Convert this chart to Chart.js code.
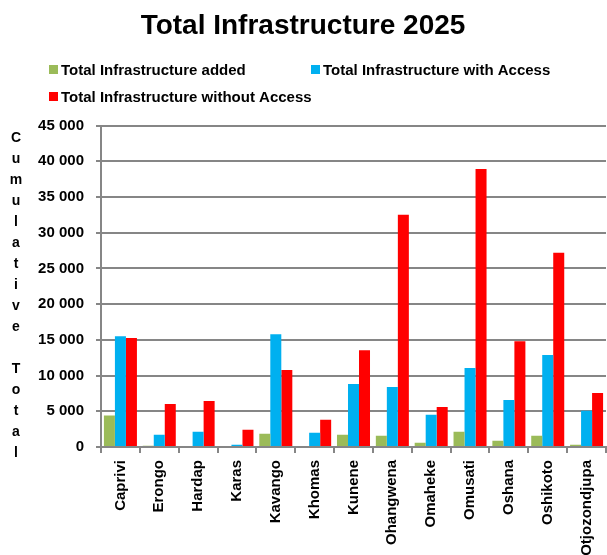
<!DOCTYPE html>
<html>
<head>
<meta charset="utf-8">
<title>Total Infrastructure 2025</title>
<script src="https://cdn.jsdelivr.net/npm/chart.js@4"></script>
<style>
  html, body { margin:0; padding:0; background:#fff; }
  #box { width:607px; height:555px; position:relative; }
</style>
</head>
<body>
<div id="box"><canvas id="chart"></canvas></div>
<script>
// -- dati --
const regions = ["Caprivi","Erongo","Hardap","Karas","Kavango","Khomas","Kunene","Ohangwena","Omaheke","Omusati","Oshana","Oshikoto","Otjozondjupa"];
const infraAdded = [4400, 180, 0, 0, 1850, 0, 1710, 1570, 600, 2130, 880, 1570, 320];
const infraWithAccess = [15500, 1710, 2130, 320, 15800, 1990, 8820, 8400, 4500, 11050, 6590, 12870, 5060];
const infraWithoutAccess = [15250, 6030, 6450, 2410, 10770, 3800, 13560, 32520, 5610, 38910, 14810, 27210, 7570];
const seriesNames = ["Total Infrastructure added","Total Infrastructure with Access","Total Infrastructure without Access"];
const yTitle = "Cumulative Total";
const yMax = 45000, yStep = 5000;

const FONT = "'Liberation Sans', Arial, sans-serif";
const GRID = "#868686";
const colors = ["#9BBB59","#00B0F0","#FF0000"];

// -- legenda e titolo asse disegnati a mano (layout a due righe come l'originale) --
const customText = {
  id: "customText",
  afterDraw(chart) {
    const ctx = chart.ctx;
    ctx.save();
    ctx.font = "bold 15px " + FONT;
    ctx.fillStyle = "#000";
    ctx.textBaseline = "middle";
    ctx.textAlign = "left";
    const slots = [[49, 69.5], [311, 69.5], [49, 96.5]];
    chart.data.datasets.forEach((ds, i) => {
      let [x, y] = slots[i];
      ctx.fillStyle = ds.backgroundColor;
      ctx.fillRect(x, y - 4.5, 9, 9);
      ctx.fillStyle = "#000";
      ctx.fillText(ds.label, x + 12, y + 1);
    });
    // titolo verticale, una lettera per riga
    ctx.font = "bold 14px " + FONT;
    ctx.textAlign = "center";
    yTitle.split("").forEach((ch, i) => {
      if (ch !== " ") ctx.fillText(ch, 16, 138 + i * 21);
    });
    ctx.restore();
  }
};

new Chart(document.getElementById("chart"), {
  type: "bar",
  data: {
    labels: regions,
    datasets: [
      { label: seriesNames[0], data: infraAdded, backgroundColor: colors[0] },
      { label: seriesNames[1], data: infraWithAccess, backgroundColor: colors[1] },
      { label: seriesNames[2], data: infraWithoutAccess, backgroundColor: colors[2] }
    ]
  },
  options: {
    responsive: true,
    maintainAspectRatio: false,
    animation: false,
    layout: { padding: { left: 0, right: 1, top: 0, bottom: 0 } },
    datasets: { bar: { categoryPercentage: 0.85, barPercentage: 1.0, borderWidth: 0 } },
    plugins: {
      legend: { display: false },
      tooltip: { enabled: false },
      title: {
        display: true,
        text: "Total Infrastructure 2025",
        color: "#000",
        font: { family: FONT, size: 28, weight: "bold" },
        padding: { top: 9, bottom: 83 }
      }
    },
    scales: {
      x: {
        offset: true,
        grid: { drawOnChartArea: false, drawTicks: true, tickLength: 6, color: GRID, lineWidth: 2, offset: true },
        border: { display: true, color: GRID, width: 2 },
        ticks: {
          color: "#000", autoSkip: false, minRotation: 90, maxRotation: 90, padding: 7,
          font: { family: FONT, size: 15, weight: "bold" }
        },
        afterFit: s => { s.height = 108; s.paddingRight = 0; s.paddingLeft = 0; }
      },
      y: {
        min: 0, max: yMax,
        grid: { color: GRID, lineWidth: 2, drawTicks: true, tickLength: 5 },
        border: { display: true, color: GRID, width: 2 },
        ticks: {
          stepSize: yStep, color: "#000", padding: 12,
          font: { family: FONT, size: 15, weight: "bold" },
          callback: v => String(v).replace(/\B(?=(\d{3})+(?!\d))/g, " ")
        },
        afterFit: s => { s.width = 101; }
      }
    }
  },
  plugins: [customText]
});
</script>
</body>
</html>
